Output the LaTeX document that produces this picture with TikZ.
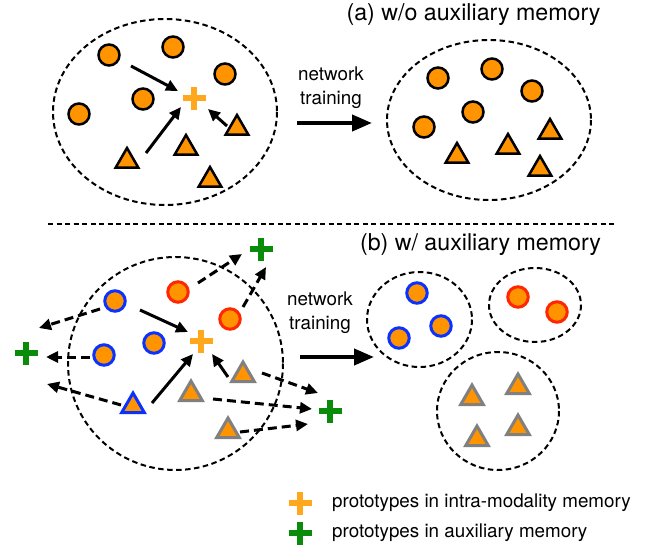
\documentclass[tikz,border=0pt]{standalone}
\usepackage{fontspec}
\setmainfont{TeX Gyre Heros}
\usetikzlibrary{shapes.geometric,arrows.meta}
\definecolor{fillorange}{RGB}{255,147,0}
\definecolor{plusorange}{RGB}{255,168,30}
\definecolor{plusgreen}{RGB}{10,140,10}
\definecolor{outblue}{RGB}{10,50,255}
\definecolor{outred}{RGB}{255,38,0}
\definecolor{outgray}{RGB}{128,128,128}
\begin{document}
\begin{tikzpicture}[x=1pt,y=-1pt,
  dot/.style={circle,draw=black,fill=fillorange,line width=2.5pt,minimum size=21pt,inner sep=0pt},
  bdot/.style={dot,draw=outblue,line width=3pt,minimum size=20.5pt},
  rdot/.style={dot,draw=outred,line width=3pt,minimum size=20.5pt},
  tri/.style={regular polygon,regular polygon sides=3,draw=black,fill=fillorange,line width=2.5pt,minimum size=26pt,inner sep=0pt},
  btri/.style={tri,draw=outblue,line width=3pt},
  gtri/.style={tri,draw=outgray,line width=3pt},
  proto/.style={circle,minimum size=30pt,inner sep=0pt,
    path picture={\draw[line width=5.5pt,#1]
      ([xshift=-11.5pt]path picture bounding box.center) -- ([xshift=11.5pt]path picture bounding box.center)
      ([yshift=-11.5pt]path picture bounding box.center) -- ([yshift=11.5pt]path picture bounding box.center);}},
  solidarr/.style={line width=3pt,-{Triangle[length=12pt,width=11pt]}},
  dasharr/.style={solidarr,dash pattern=on 9pt off 5pt},
  bigarr/.style={line width=4pt,-{Triangle[length=20pt,width=16pt]}},
  ring/.style={dash pattern=on 5.5pt off 3.5pt,line width=2pt},
  titletext/.style={font=\fontsize{23.2}{27}\selectfont},
  lbltext/.style={font=\fontsize{18.8}{23.8}\selectfont,align=center},
]
\useasboundingbox (0,0) rectangle (662,549);

% ---------- (a) ----------
\node[titletext] (ttla) at (473.5,14.5) {(a) w/o auxiliary memory};
\draw[ring] (165,112) ellipse [x radius=112, y radius=93];
\draw[ring] (489,120) ellipse [x radius=102, y radius=80];

\node[dot] (ac1) at (109,55) {};
\node[dot] (ac2) at (173,47) {};
\node[dot] (ac3) at (225,74) {};
\node[dot] (ac4) at (143,99) {};
\node[dot] (ac5) at (79,114) {};
\node[tri] (at1) at (127,161) {};
\node[tri] (at2) at (186,148) {};
\node[tri] (at3) at (210,180) {};
\node[tri] (at4) at (237,128) {};
\node[proto=plusorange] (pa) at (194,98) {};

\draw[solidarr] ([shift={(22,11)}]ac1.center) -- ([shift={(-16,-7)}]pa.center);
\draw[solidarr] ([shift={(19,-8)}]at1.center) -- ([shift={(-13,9)}]pa.center);
\draw[solidarr] ([shift={(-10,-2)}]at4.center) -- ([shift={(14,11)}]pa.center);

\node[lbltext] (nta) at (331,87.6) {network\\training};
\coordinate (arrAs) at (297,123);
\coordinate (arrAe) at (372,123);
\draw[bigarr] (arrAs) -- (arrAe);

\node[dot] (rc1) at (438,78) {};
\node[dot] (rc2) at (492,69) {};
\node[dot] (rc3) at (532,91) {};
\node[dot] (rc4) at (473,112) {};
\node[dot] (rc5) at (424,127) {};
\node[tri] (rt1) at (457,156) {};
\node[tri] (rt2) at (508,147) {};
\node[tri] (rt3) at (550,132) {};
\node[tri] (rt4) at (540,169) {};

% separator
\coordinate (sepL) at (48,224);
\coordinate (sepR) at (614,224);
\draw[dash pattern=on 5pt off 3.5pt,line width=1.6pt] (sepL) -- (sepR);

% ---------- (b) ----------
\node[titletext] (ttlb) at (480.5,245) {(b) w/ auxiliary memory};
\draw[ring] (175.5,363.5) ellipse [x radius=107.5, y radius=106.5];

\node[bdot] (b1) at (115,301) {};
\node[bdot] (b2) at (154,343) {};
\node[bdot] (b3) at (104,355) {};
\node[rdot] (r1) at (178,292) {};
\node[rdot] (r2) at (230,319) {};
\node[btri] (bt) at (133,406) {};
\node[gtri] (gt1) at (191,394) {};
\node[gtri] (gt2) at (243,375) {};
\node[gtri] (gt3) at (228,431) {};
\node[proto=plusorange] (pb) at (201,341) {};
\node[proto=plusgreen] (g1) at (26,353) {};
\node[proto=plusgreen] (g2) at (261,249) {};
\node[proto=plusgreen] (g3) at (330,411) {};

\draw[solidarr] ([shift={(25,9)}]b1.center) -- ([shift={(-13,-9)}]pb.center);
\draw[solidarr] ([shift={(19,-3)}]bt.center) -- ([shift={(-8,13)}]pb.center);
\draw[solidarr] ([shift={(-15,2)}]gt2.center) -- ([shift={(11,13)}]pb.center);

\draw[dasharr] ([shift={(-15,8)}]b1.center) -- ([shift={(13,-25)}]g1.center);
\draw[dasharr] ([shift={(-14,2)}]b3.center) -- ([shift={(20,4)}]g1.center);
\draw[dasharr] ([shift={(-12,-1)}]bt.center) -- ([shift={(21,31)}]g1.center);
\draw[dasharr] ([shift={(20,-9)}]r1.center) -- ([shift={(-19,5)}]g2.center);
\draw[dasharr] ([shift={(13,-12)}]r2.center) -- ([shift={(5,18)}]g2.center);
\draw[dasharr] ([shift={(19,-2)}]gt2.center) -- ([shift={(-12,-18)}]g3.center);
\draw[dasharr] ([shift={(22,5)}]gt1.center) -- ([shift={(-18,-2)}]g3.center);
\draw[dasharr] ([shift={(12,1)}]gt3.center) -- ([shift={(-22,13)}]g3.center);

\node[lbltext] (ntb) at (320,312.6) {network\\training};
\coordinate (arrBs) at (300,357);
\coordinate (arrBe) at (374,357);
\draw[bigarr] (arrBs) -- (arrBe);

\draw[ring] (419.5,319.5) ellipse [x radius=52.5, y radius=47.5];
\draw[ring] (535,305) ellipse [x radius=46, y radius=37];
\draw[ring] (498,411) ellipse [x radius=61, y radius=59];

\node[bdot] (cb1) at (417,293) {};
\node[bdot] (cb2) at (441,326) {};
\node[bdot] (cb3) at (399,338) {};
\node[rdot] (cr1) at (518,297) {};
\node[rdot] (cr2) at (557,312) {};
\node[gtri] (cg1) at (472,398) {};
\node[gtri] (cg2) at (518,387) {};
\node[gtri] (cg3) at (518,428) {};
\node[gtri] (cg4) at (477,439) {};

% ---------- legend ----------
\node[proto=plusorange] (lg1) at (300,503) {};
\node[proto=plusgreen] (lg2) at (300,533) {};
\node[lbltext,anchor=west,inner sep=0pt] (lt1) at (332,503) {prototypes in intra-modality memory};
\node[lbltext,anchor=west,inner sep=0pt] (lt2) at (332,533) {prototypes in auxiliary memory};
\end{tikzpicture}
\end{document}
